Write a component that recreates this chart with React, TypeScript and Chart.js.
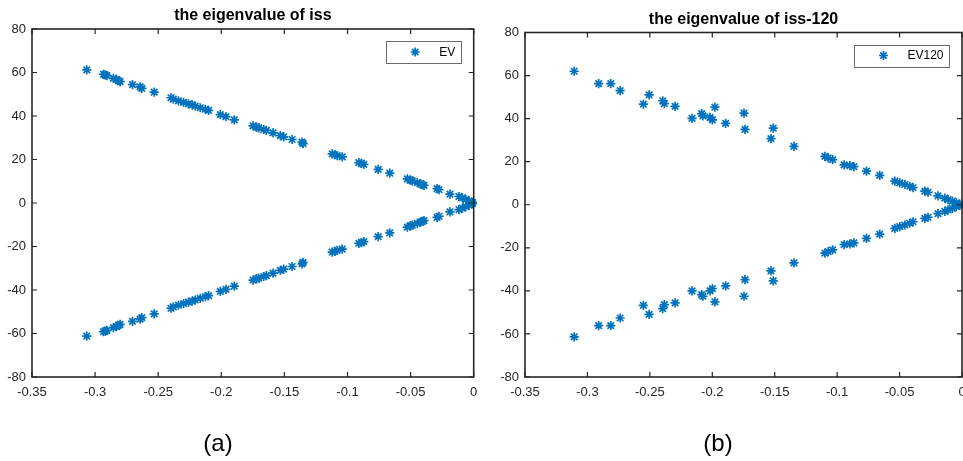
import React, { useEffect, useRef } from 'react';
import { Chart, registerables } from 'chart.js';

Chart.register(...registerables);

// ---- (a) eigenvalues of iss : real parts and imaginary parts (upper / lower branch)
const evReal = [
  -0.3066, -0.2934, -0.292, -0.2907, -0.2855, -0.283, -0.2815, -0.2802, -0.2704, -0.2643,
  -0.263, -0.2532, -0.2399, -0.238, -0.2339, -0.2299, -0.226, -0.223, -0.2206, -0.2167,
  -0.2127, -0.2101, -0.2008, -0.1963, -0.1897, -0.1748, -0.172, -0.1704, -0.1664, -0.1643,
  -0.159, -0.1532, -0.1506, -0.1439, -0.136, -0.1352, -0.1121, -0.11, -0.1082, -0.1042,
  -0.091, -0.089, -0.0871, -0.0757, -0.0665, -0.0526, -0.05, -0.0487, -0.0447, -0.042,
  -0.0407, -0.0394, -0.029, -0.0275, -0.0188, -0.0117, -0.009, -0.0063, -0.0037, -0.001,
];
const evImagUpper = [
  61.2, 59.2, 58.9, 58.6, 57.3, 56.8, 56.2, 55.8, 54.4, 53.4,
  52.7, 51.0, 48.4, 47.8, 47.0, 46.3, 45.6, 45.1, 44.6, 43.8,
  43.1, 42.6, 40.6, 39.7, 38.2, 35.5, 34.9, 34.5, 33.8, 33.4,
  32.2, 31.0, 30.4, 29.2, 28.0, 27.3, 22.6, 22.2, 21.8, 21.2,
  18.6, 18.2, 17.8, 15.5, 13.7, 11.1, 10.5, 10.2, 9.4, 8.8,
  8.4, 8.1, 6.6, 6.1, 4.1, 3.0, 2.4, 1.7, 1.0, 0.3,
];
const evImagLower = [
  -61.2, -59.2, -58.9, -58.6, -57.3, -56.8, -56.2, -55.8, -54.4, -53.4,
  -52.7, -51.0, -48.4, -47.8, -47.0, -46.3, -45.6, -45.1, -44.6, -43.8,
  -43.1, -42.6, -40.6, -39.7, -38.2, -35.5, -34.9, -34.5, -33.8, -33.4,
  -32.2, -31.0, -30.4, -29.2, -28.0, -27.3, -22.6, -22.2, -21.8, -21.2,
  -18.6, -18.2, -17.8, -15.5, -13.7, -11.1, -10.5, -10.2, -9.4, -8.8,
  -8.4, -8.1, -6.6, -6.1, -4.1, -3.0, -2.4, -1.7, -1.0, -0.3,
];

// ---- (b) eigenvalues of iss-120
const ev120Real = [
  -0.3106, -0.291, -0.2813, -0.2738, -0.2552, -0.2506, -0.2397, -0.2384, -0.2298, -0.2162,
  -0.2085, -0.2075, -0.2018, -0.1999, -0.1979, -0.1893, -0.1746, -0.1738, -0.153, -0.1512,
  -0.1346, -0.1098, -0.1072, -0.1036, -0.0944, -0.0898, -0.0866, -0.0765, -0.0659, -0.0538,
  -0.0498, -0.0458, -0.0418, -0.0392, -0.0298, -0.0272, -0.0192, -0.0138, -0.0112, -0.0077,
  -0.0045, -0.0018,
];
const ev120ImagUpper = [
  62.0, 56.3, 56.3, 53.0, 46.7, 51.0, 48.3, 47.0, 45.7, 40.1,
  42.3, 41.3, 40.6, 39.4, 45.3, 37.8, 42.6, 35.0, 30.7, 35.6,
  27.1, 22.5, 21.8, 21.0, 18.5, 18.2, 17.7, 15.6, 13.6, 11.0,
  10.2, 9.4, 8.6, 7.9, 6.3, 5.8, 4.1, 3.1, 2.4, 1.7,
  0.9, 0.3,
];
const ev120ImagLower = [
  -61.4, -56.1, -56.1, -52.6, -46.7, -50.9, -48.2, -46.4, -45.6, -40.0,
  -41.7, -42.5, -40.0, -38.9, -45.1, -37.7, -42.5, -34.8, -30.7, -35.4,
  -27.0, -22.5, -21.8, -21.0, -18.5, -18.2, -17.7, -15.6, -13.6, -11.0,
  -10.2, -9.4, -8.6, -7.9, -6.3, -5.8, -4.1, -3.1, -2.4, -1.7,
  -0.9, -0.3,
];

const xMin = -0.35;
const xMax = 0;
const xStep = 0.05;
const yMin = -80;
const yMax = 80;
const yStep = 20;

const BLUE = '#0072BD';
const AXIS = '#262626';
const FONT = '"Liberation Sans", Arial, Helvetica, sans-serif';

const drawStar = (ctx: CanvasRenderingContext2D, x: number, y: number, r: number) => {
  const d = r * Math.SQRT1_2;
  ctx.beginPath();
  ctx.moveTo(x - r, y); ctx.lineTo(x + r, y);
  ctx.moveTo(x, y - r); ctx.lineTo(x, y + r);
  ctx.moveTo(x - d, y - d); ctx.lineTo(x + d, y + d);
  ctx.moveTo(x - d, y + d); ctx.lineTo(x + d, y - d);
  ctx.stroke();
};

const matlabPlugin = {
  id: 'matlabAxes',
  afterDraw(chart: any, _args: any, opts: any) {
    const { ctx, chartArea: ca, scales } = chart;
    const xs = scales.x;
    const ys = scales.y;
    ctx.save();
    // ticks (inward, all four sides)
    ctx.strokeStyle = AXIS;
    ctx.lineWidth = 1.2;
    ctx.beginPath();
    xs.ticks.forEach((t: any) => {
      const px = xs.getPixelForValue(t.value);
      ctx.moveTo(px, ca.bottom); ctx.lineTo(px, ca.bottom - 5);
      ctx.moveTo(px, ca.top); ctx.lineTo(px, ca.top + 5);
    });
    ys.ticks.forEach((t: any) => {
      const py = ys.getPixelForValue(t.value);
      ctx.moveTo(ca.left, py); ctx.lineTo(ca.left + 5, py);
      ctx.moveTo(ca.right, py); ctx.lineTo(ca.right - 5, py);
    });
    ctx.stroke();
    // box
    ctx.lineWidth = 1.6;
    ctx.strokeRect(ca.left, ca.top, ca.right - ca.left, ca.bottom - ca.top);
    // title
    ctx.font = `bold 16px ${FONT}`;
    ctx.fillStyle = '#000';
    ctx.textAlign = 'center';
    ctx.textBaseline = 'middle';
    ctx.fillText(opts.title, (ca.left + ca.right) / 2, ca.top - 13);
    // legend
    ctx.font = `12px ${FONT}`;
    const tw = ctx.measureText(opts.label).width;
    const bw = 53 + tw + 6;
    const bh = 22;
    const bx = ca.right - 12.5 - bw;
    const by = ca.top + 12;
    ctx.fillStyle = '#fff';
    ctx.fillRect(bx, by, bw, bh);
    ctx.strokeStyle = '#6b6b6b';
    ctx.lineWidth = 1;
    ctx.strokeRect(Math.round(bx) + 0.5, Math.round(by) + 0.5, Math.round(bw), bh);
    ctx.strokeStyle = BLUE;
    ctx.lineWidth = 1.7;
    drawStar(ctx, bx + 29, by + bh / 2, 4.5);
    ctx.fillStyle = '#000';
    ctx.textAlign = 'left';
    ctx.fillText(opts.label, bx + 53, by + bh / 2 + 0.5);
    ctx.restore();
  },
};

const tickFmt = (v: any) => String(Math.round(Number(v) * 100) / 100);

function makeConfig(
  real: number[], upper: number[], lower: number[],
  title: string, label: string, padTop: number, padRight: number, yWidth: number,
) {
  const pts = [
    ...real.map((x, i) => ({ x, y: upper[i] })),
    ...real.map((x, i) => ({ x, y: lower[i] })),
  ];
  return {
    type: 'scatter' as const,
    data: {
      datasets: [{
        label,
        data: pts,
        pointStyle: 'star',
        radius: 4.6,
        pointRadius: 4.6,
        borderWidth: 1.7,
        borderColor: BLUE,
        backgroundColor: BLUE,
        showLine: false,
        clip: false,
      }],
    },
    options: {
      responsive: false,
      animation: false,
      devicePixelRatio: 1,
      events: [],
      layout: { padding: { left: 0, right: padRight, top: padTop, bottom: 0 } },
      plugins: {
        legend: { display: false },
        title: { display: false },
        tooltip: { enabled: false },
        matlabAxes: { title, label },
      },
      scales: {
        x: {
          type: 'linear',
          min: xMin,
          max: xMax,
          grid: { display: false, drawTicks: false },
          border: { display: false },
          ticks: {
            stepSize: xStep,
            callback: tickFmt,
            color: AXIS,
            font: { family: FONT, size: 13 },
            padding: 8,
            maxRotation: 0,
            autoSkip: false,
          },
          afterFit: (s: any) => { s.height = 84; s.paddingLeft = 0; s.paddingRight = 0; },
        },
        y: {
          type: 'linear',
          min: yMin,
          max: yMax,
          grid: { display: false, drawTicks: false },
          border: { display: false },
          ticks: {
            stepSize: yStep,
            callback: tickFmt,
            color: AXIS,
            font: { family: FONT, size: 13 },
            padding: 6,
            autoSkip: false,
          },
          afterFit: (s: any) => { s.width = yWidth; s.paddingTop = 0; s.paddingBottom = 0; },
        },
      },
    },
    plugins: [matlabPlugin],
  };
}

function Panel(props: { cfg: any; left: number; width: number }) {
  const ref = useRef<HTMLCanvasElement | null>(null);
  useEffect(() => {
    if (!ref.current) return;
    const chart = new Chart(ref.current, props.cfg);
    return () => chart.destroy();
  }, []);
  return (
    <canvas
      ref={ref}
      width={props.width}
      height={461}
      style={{ position: 'absolute', left: props.left, top: 0, width: props.width, height: 461 }}
    />
  );
}

export default function App() {
  const cfgA = makeConfig(evReal, evImagUpper, evImagLower, 'the eigenvalue of iss', 'EV', 29, 6, 32);
  const cfgB = makeConfig(ev120Real, ev120ImagUpper, ev120ImagLower, 'the eigenvalue of iss-120', 'EV120', 32.5, 18, 45);
  const capStyle: React.CSSProperties = {
    position: 'absolute', top: 429, width: 100, textAlign: 'center',
    font: `24px ${FONT}`, lineHeight: '28px', color: '#000',
  };
  return (
    <div style={{ position: 'absolute', left: 0, top: 0, width: 963, height: 461, background: '#fff', overflow: 'hidden' }}>
      <Panel cfg={cfgA} left={0} width={480} />
      <Panel cfg={cfgB} left={480} width={500} />
      <div style={{ ...capStyle, left: 168 }}>(a)</div>
      <div style={{ ...capStyle, left: 668 }}>(b)</div>
    </div>
  );
}
